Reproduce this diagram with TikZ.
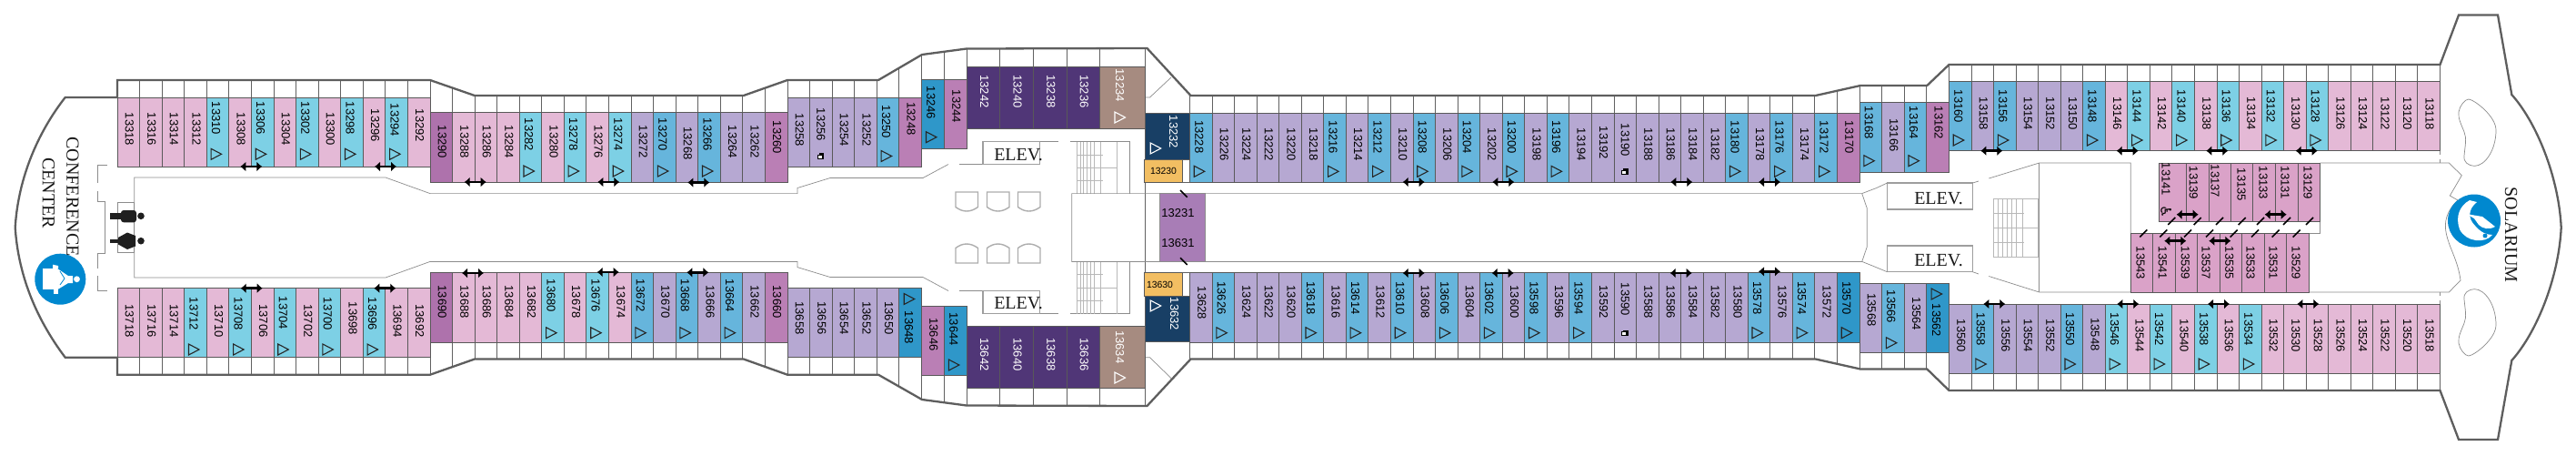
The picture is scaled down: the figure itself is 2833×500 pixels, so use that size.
\documentclass[tikz,border=0pt]{standalone}
\usepackage{fontspec}
\setmainfont{Liberation Sans}
\newfontfamily\serifl{Liberation Serif}
\newfontfamily\dejavu{DejaVu Sans}
\usetikzlibrary{arrows.meta}
\definecolor{cp}{HTML}{E4B9D6}\definecolor{cb}{HTML}{7DD0E5}\definecolor{cv}{HTML}{B6A8D2}
\definecolor{cm}{HTML}{66B5DC}\definecolor{cd}{HTML}{2F97C9}\definecolor{co}{HTML}{BA7FB5}
\definecolor{cw}{HTML}{AE72AC}\definecolor{cq}{HTML}{503677}\definecolor{ct}{HTML}{A68B80}
\definecolor{cn}{HTML}{183F65}\definecolor{cg}{HTML}{F2BE62}\definecolor{ck}{HTML}{DAA2C8}
\definecolor{ca}{HTML}{A87DB6}\definecolor{lg}{HTML}{0088CF}\definecolor{hullc}{HTML}{5E5E5E}
\tikzset{
 cabin/.style={draw=black!65,line width=0.45pt},
 num/.style={inner sep=0pt,rotate=-90,font=\fontsize{6.5}{7}\selectfont},
 hnum/.style={inner sep=0pt,font=\fontsize{6.5}{7}\selectfont},
 tx cp/.style={text=black},tx cb/.style={text=black},tx cv/.style={text=black},tx cm/.style={text=black},
 tx cd/.style={text=black},tx co/.style={text=black},tx cw/.style={text=black},tx ck/.style={text=black},
 tx cq/.style={text=white},tx ct/.style={text=white},tx cn/.style={text=white},
 hull/.style={draw=hullc,line width=1.15pt,line join=miter},
 divider/.style={draw=black!62,line width=0.45pt},
 inner/.style={draw=black!45,line width=0.35pt},
 faint/.style={draw=black!28,line width=0.45pt},
 box/.style={draw=black!38,line width=0.7pt},
 trimark/.style={draw=black!85,line width=0.55pt,line join=miter},
 dbl/.style={{Latex[length=3pt,width=5.5pt]}-{Latex[length=3pt,width=5.5pt]},line width=1.3pt,black},
 tickm/.style={draw=black,line width=0.8pt},
 place/.style={inner sep=0pt,font=\serifl\fontsize{10}{10}\selectfont,text=black!90},
}
\def\tdxn{1}\def\tdxt{-2}\def\tdxs{0}\def\tdxu{-1.5}\def\tdxw{-3}
\newcommand\tri[3][trimark]{\draw[#1] (#2-5.5,#3-6) -- (#2-5.5,#3+6) -- (#2+6,#3) -- cycle;}
\newcommand\sqicon[2]{\fill[black] (#1-2.2,#2-3.2) rectangle (#1+3.6,#2+3.4);
 \filldraw[fill=white,draw=black,line width=0.35pt] (#1-3.6,#2-1.4) rectangle (#1+1,#2+2.6);}
\def\kindn{}
\def\kindt{\tri{\tx}{\triy}}
\def\kinds{\sqicon{\cx}{\triy}}
\def\kindu{\tri{\tx}{\yaa+12}}
\def\kindw{\tri[trimark,draw=white]{\tx}{\triy}}
\newcommand\cabrow[6]{% x0,dx,y0,y1,triy,list
 \foreach \n/\c/\ty/\k [count=\i from 0] in {#6}{
  \pgfmathsetmacro\xa{#1+\i*#2}\pgfmathsetmacro\xb{\xa+#2}
  \pgfmathsetmacro\cx{\xa+#2/2}
  \pgfmathsetmacro\tx{\cx+\csname tdx\k\endcsname}
  \def\yaa{#3}\def\triy{#5}
  \path[cabin,fill=\c] (\xa,#3) rectangle (\xb,#4);
  \node[num,tx \c] (c\n) at (\tx,\ty) {\n};
  \csname kind\k\endcsname
 }}
\newcommand\balc[5]{\foreach \i in {0,...,#3}{\pgfmathsetmacro\xa{#1+\i*#2}\draw[divider] (\xa,#4) -- (\xa,#5);}}
\newcommand\dblarrow[2]{\draw[dbl] (#1-12,#2) -- (#1+12,#2);}
\def\hullpath{(71.7,107) -- (129,107) -- (129,88) -- (473,88) -- (522,105) -- (817.7,105) -- (866,88) -- (966,88) -- (1014,60) -- (1063,53.5) -- (1261.5,53) -- (1309.5,105) -- (1996.7,105) -- (2046,94) -- (2119.3,94) -- (2143.5,71) -- (2683.5,71) -- (2704,16.5) -- (2747,16.5) -- (2762.3,104)
 .. controls (2790,135) and (2814,195) .. (2816.7,250) .. controls (2814,305) and (2790,365) .. (2762.3,396)
 -- (2747,483) -- (2704,483) -- (2683.5,429) -- (2143.5,429) -- (2119.3,405.5) -- (2046,405.5) -- (1996.7,394.5) -- (1309.5,394.5) -- (1261.5,446) -- (1063,445.5) -- (1014,439) -- (966,411.7) -- (866,411.7) -- (817.7,394.5) -- (522,394.5) -- (473,411.7) -- (129,411.7) -- (129,392.7) -- (71.7,392.7)
 .. controls (38,348) and (20,300) .. (16.7,250) .. controls (20,195) and (42,145) .. (71.7,107) -- cycle}
\begin{document}
\begin{tikzpicture}[x=0.5pt,y=-0.5pt]
\useasboundingbox (0,0) rectangle (2833,500);
\fill[white] (0,0) rectangle (2833,500);
% balcony dividers, clipped to the hull
\begin{scope}
\expandafter\clip\hullpath;
\balc{129}{24.57}{14}{107}{80}
\balc{129}{24.57}{14}{393}{420}
\balc{473}{24.56}{16}{123}{80}
\balc{473}{24.56}{16}{376}{420}
\balc{866}{24.58}{6}{107}{50}
\balc{866}{24.58}{6}{393}{450}
\balc{1013.5}{24.9}{2}{87}{50}
\balc{1013.5}{24.9}{2}{412}{450}
\balc{1063.3}{36.6}{4}{73}{50}
\balc{1063.3}{36.6}{4}{427}{450}
\draw[divider] (1259.3,50) -- (1259.3,450);
\draw[divider] (1308.5,95) -- (1308.5,125);
\draw[divider] (1308.5,376) -- (1308.5,405);
\balc{1308.5}{24.55}{30}{124}{100}
\balc{1308.5}{24.55}{30}{376}{400}
\balc{2045}{24.6}{4}{112}{70}
\balc{2045}{24.6}{4}{388}{430}
\balc{2143.5}{24.54}{22}{90}{65}
\balc{2143.5}{24.54}{22}{410}{435}
\end{scope}
% forward interior
\draw[inner] (107.3,201) -- (107.3,181) -- (118,181);
\draw[inner] (107.3,210) -- (107.3,221.7) -- (115.7,221.7) -- (115.7,278.3) -- (107.3,278.3) -- (107.3,295);
\draw[inner] (107.3,303) -- (107.3,319) -- (118,319);
\draw[inner] (129.3,222) rectangle (147.7,277.7);
\draw[inner] (1043,180.5) -- (1015,195.5) -- (913,195.5) -- (877,206.5) -- (877,212.6) -- (473,212.6) -- (424,195) -- (147.7,195) -- (147.7,305) -- (424,305) -- (473,287.4) -- (877,287.4) -- (877,293.6) -- (913,304.5) -- (1015,304.5) -- (1043,319.5);
\draw[inner] (1055,180.5) -- (1081,180.5);
\draw[inner] (1055,319.5) -- (1081,319.5);
% midship lifts and stairs
\foreach \ya/\yb/\yt in {155.5/180.5/170,319.5/344.5/333}{
 \draw[box] (1081,\ya) rectangle (1143.5,\yb);
 \node[place] at (1120,\yt) {ELEV.};}
\draw[inner] (1143.5,155.5) -- (1164,155.5) (1177,155.5) -- (1242.5,155.5) -- (1242.5,212.6);
\draw[inner] (1143.5,344.5) -- (1164,344.5) (1177,344.5) -- (1242.5,344.5) -- (1242.5,287.4);
\foreach \x in {1184,1188,1191.5,1195,1199,1203,1210,1228}{
 \draw[faint] (\x,155.5) -- (\x,212.6);
 \draw[faint] (\x,287.4) -- (\x,344.5);}
\foreach \y/\xe in {170/1213,184/1228,198.5/1213,301.5/1213,316/1228,330/1213}
 \draw[faint] (1184,\y) -- (\xe,\y);
\draw[inner] (1178.7,287.4) -- (1178.7,212.6) -- (2047.7,212.6) -- (2053.3,229) -- (2053.3,271) -- (2047.7,287.4) -- cycle;
\draw[inner] (2047.7,212.6) -- (2063.7,206.5);
\draw[inner] (2047.7,287.4) -- (2058,291.5);
% seats
\foreach \x in {1051,1085.5,1119.5}{
 \draw[box,draw=black!32] (\x,211) -- (\x,227.5) .. controls (\x+8,233.5) and (\x+16,233.5) .. (\x+24.5,227.5) -- (\x+24.5,211) -- cycle;
 \draw[box,draw=black!32] (\x,289) -- (\x,272.5) .. controls (\x+8,266.5) and (\x+16,266.5) .. (\x+24.5,272.5) -- (\x+24.5,289) -- cycle;}
\draw[inner] (1259.3,107) -- (1264.5,107) -- (1288,85);
\draw[inner] (1259.3,392.7) -- (1264.5,392.7) -- (1288,415.5);
% aft interior
\foreach \ya/\yb/\yt in {201/230/218,270/298.7/285.7}{
 \draw[box] (2075.5,\ya) rectangle (2169.5,\yb);
 \node[place] at (2132,\yt) {ELEV.};}
\draw[inner] (2187.3,196) -- (2242.7,179) -- (2343.3,179) -- (2343.3,321) -- (2242.7,321) -- (2187.3,303.5);
\draw[inner] (2242.7,179) -- (2242.7,321);
\draw[inner] (2169.5,201) -- (2176,199);
\draw[inner] (2169.5,298.7) -- (2176,301);
\draw[inner] (2058,291.5) -- (2075.5,298.7);
\draw[inner] (2063.7,206.5) -- (2075.5,201);
\foreach \x in {2192.3,2197,2202,2207,2212,2217,2224}{\draw[faint] (\x,218) -- (\x,282);}
\draw[faint] (2192.3,218) rectangle (2241,282);
\foreach \y/\xe in {234/2225.7,250/2241,266/2225.7}{\draw[faint] (2192.3,\y) -- (\xe,\y);}
\draw[inner] (2551.7,179) -- (2693.3,179) -- (2707.3,192.7) -- (2694.3,215) -- (2703,220) .. controls (2690,232) and (2688,245) .. (2690,255) .. controls (2693,272) and (2703,285) .. (2706,308) -- (2693.3,321) -- (2539.7,321);
\draw[inner] (2551.7,243) -- (2551.7,256.5) -- (2539.7,256.5);
\draw[inner] (2683.3,165.7) -- (2683.3,170) (2683.3,175) -- (2683.3,179);
\draw[inner] (2683.3,321) -- (2683.3,325) (2683.3,330) -- (2683.3,334);
\foreach \s in {1,-1}{
 \draw[inner,line width=0.35pt] (2715,{250+\s*(-141)}) .. controls (2722,{250+\s*(-140)}) and (2745,{250+\s*(-122)}) .. (2745,{250+\s*(-107)}) .. controls (2745,{250+\s*(-85)}) and (2733,{250+\s*(-68)}) .. (2721.7,{250+\s*(-67.7)}) .. controls (2714,{250+\s*(-68)}) and (2709,{250+\s*(-72)}) .. (2710,{250+\s*(-79)}) .. controls (2711,{250+\s*(-90)}) and (2713,{250+\s*(-98)}) .. (2710,{250+\s*(-105)}) .. controls (2707,{250+\s*(-113)}) and (2703,{250+\s*(-120)}) .. (2704,{250+\s*(-127)}) .. controls (2705,{250+\s*(-134)}) and (2711,{250+\s*(-141)}) .. (2715,{250+\s*(-141)}) -- cycle;}
% cabins, starboard (top)
\cabrow{129}{24.57}{107}{183}{169.3}{13318/cp/142/n,13316/cp/142/n,13314/cp/142/n,13312/cp/142/n,13310/cb/130/t,13308/cp/142/n,13306/cb/130/t,13304/cp/142/n,13302/cb/130/t,13300/cp/142/n,13298/cb/130/t,13296/cp/138/n,13294/cb/132/t,13292/cp/138/n}
\cabrow{473}{24.56}{123}{200}{188}{13290/cw/156/n,13288/cp/156/n,13286/cp/156/n,13284/cp/156/n,13282/cb/148/t,13280/cp/156/n,13278/cb/148/t,13276/cp/156/n,13274/cb/148/t,13272/cv/156/n,13270/cm/148/t,13268/cv/157.5/n,13266/cm/148/t,13264/cv/156/n,13262/cv/156/n,13260/co/151/n}
\cabrow{866}{24.58}{107}{183}{171.5}{13258/cv/143/n,13256/cv/137/s,13254/cv/143/n,13252/cv/143/n,13250/cm/134/t,13248/co/130.5/n}
\cabrow{1013.5}{24.9}{87.5}{163.5}{150.7}{13246/cd/113/t,13244/co/117/n}
\cabrow{1063.3}{36.6}{73}{141}{129}{13242/cq/100.5/n,13240/cq/100.5/n,13238/cq/100.5/n,13236/cq/100.5/n}
\cabrow{1209.7}{49.6}{73}{141}{129}{13234/ct/93.7/w}
\cabrow{1308.5}{24.55}{124}{200}{188.3}{13228/cm/150.3/t,13226/cv/159/n,13224/cv/159/n,13222/cv/159/n,13220/cv/159/n,13218/cv/159/n,13216/cm/151/t,13214/cv/159/n,13212/cm/151/t,13210/cv/159/n,13208/cm/151/t,13206/cv/159/n,13204/cm/151/t,13202/cv/159/n,13200/cm/151/t,13198/cv/159/n,13196/cm/151/t,13194/cv/159/n,13192/cv/157/n,13190/cv/154/s,13188/cv/159/n,13186/cv/159/n,13184/cv/159/n,13182/cv/159/n,13180/cm/151/t,13178/cv/159/n,13176/cm/151/t,13174/cv/159/n,13172/cm/151/t,13170/co/151/n}
\cabrow{2045}{24.6}{112}{189}{176.7}{13168/cm/135/t,13166/cv/148.5/n,13164/cm/135/t,13162/co/135/n}
\cabrow{2143.5}{24.54}{89.5}{165.7}{154}{13160/cm/117/t,13158/cv/125/n,13156/cm/117/t,13154/cv/125/n,13152/cv/125/n,13150/cv/125/n,13148/cm/117/t,13146/cp/125/n,13144/cb/117/t,13142/cp/125/n,13140/cb/117/t,13138/cp/125/n,13136/cb/117/t,13134/cp/125/n,13132/cb/117/t,13130/cp/125/n,13128/cb/117/t,13126/cp/125/n,13124/cp/125/n,13122/cp/125/n,13120/cp/125/n,13118/cp/125/n}
% cabins, port (bottom)
\cabrow{129}{24.57}{316.5}{392.5}{384}{13718/cp/352.5/n,13716/cp/352.5/n,13714/cp/352.5/n,13712/cb/345/t,13710/cp/352.5/n,13708/cb/345/t,13706/cp/352.5/n,13704/cb/344/t,13702/cp/352.5/n,13700/cb/345/t,13698/cp/350/n,13696/cb/345/t,13694/cp/352.5/n,13692/cp/352.5/n}
\cabrow{473}{24.56}{299.5}{376}{365.7}{13690/cw/331.7/n,13688/cp/331.7/n,13686/cp/331.7/n,13684/cp/331.7/n,13682/cp/331.7/n,13680/cb/325/t,13678/cp/331.7/n,13676/cb/325/t,13674/cp/331.7/n,13672/cm/325/t,13670/cv/331.7/n,13668/cm/325/t,13666/cv/331.7/n,13664/cm/325/t,13662/cv/331.7/n,13660/co/331.7/n}
\cabrow{866}{24.58}{316.5}{392.5}{384}{13658/cv/349.5/n,13656/cv/349.5/n,13654/cv/349.5/n,13652/cv/349.5/n,13650/cv/349.5/n,13648/cd/360/u}
\cabrow{1013.5}{24.9}{336}{412}{401}{13646/co/367.5/n,13644/cd/361.7/t}
\cabrow{1063.3}{36.6}{358}{426.5}{415}{13642/cq/389.5/n,13640/cq/389.5/n,13638/cq/389.5/n,13636/cq/389.5/n}
\cabrow{1209.7}{49.6}{358}{426.5}{415}{13634/ct/381.3/w}
\cabrow{1308.5}{24.55}{299.5}{376}{365.7}{13628/cv/333/n,13626/cm/327.5/t,13624/cv/331.7/n,13622/cv/331.7/n,13620/cv/331.7/n,13618/cm/327.5/t,13616/cv/331.7/n,13614/cm/327.5/t,13612/cv/331.7/n,13610/cm/327.5/t,13608/cv/331.7/n,13606/cm/327.5/t,13604/cv/331.7/n,13602/cm/327.5/t,13600/cv/331.7/n,13598/cm/327.5/t,13596/cv/331.7/n,13594/cm/327.5/t,13592/cv/331.7/n,13590/cv/329/s,13588/cv/331.7/n,13586/cv/331.7/n,13584/cv/331.7/n,13582/cv/331.7/n,13580/cv/331.7/n,13578/cm/327.5/t,13576/cv/331.7/n,13574/cm/327.5/t,13572/cv/331.7/n,13570/cd/327.5/t}
\cabrow{2045}{24.6}{311}{387.5}{376.7}{13568/cv/340.5/n,13566/cm/337/t,13564/cv/345/n,13562/cd/352/u}
\cabrow{2143.5}{24.54}{334}{410.5}{400}{13560/cv/369/n,13558/cm/362/t,13556/cv/369/n,13554/cv/369/n,13552/cv/369/n,13550/cm/362/t,13548/cv/367.5/n,13546/cb/362/t,13544/cp/369/n,13542/cb/362/t,13540/cp/369/n,13538/cb/362/t,13536/cp/369/n,13534/cb/362/t,13532/cp/369/n,13530/cp/369/n,13528/cp/369/n,13526/cp/369/n,13524/cp/369/n,13522/cp/369/n,13520/cp/369/n,13518/cp/369/n}
% midship special cabins
\path[cabin,fill=cn] (1259.5,124) rectangle (1308.5,175);
\node[num,text=white] (c13232) at (1290.7,145) {13232};
\tri[trimark,draw=white]{1270.7}{163}
\path[cabin,fill=cg] (1258.5,175) rectangle (1300,200);
\node[hnum,font=\fontsize{5.2}{6}\selectfont] (c13230) at (1279.5,188) {13230};
\draw[divider] (1300,200) -- (1308.5,200);
\path[cabin,fill=cn] (1259.5,325) rectangle (1308.5,375.7);
\node[num,text=white] (c13632) at (1291.7,345) {13632};
\tri[trimark,draw=white]{1270.7}{336}
\path[cabin,fill=cg] (1258.5,299.5) rectangle (1300,325);
\node[hnum,font=\fontsize{5.2}{6}\selectfont] (c13630) at (1275.5,313) {13630};
\draw[divider] (1300,299.5) -- (1308.5,299.5);
\path[cabin,draw=black!45,fill=ca] (1275.3,212.6) rectangle (1325,250);
\path[cabin,draw=black!45,fill=ca] (1275.3,250) rectangle (1325,287.4);
\draw[draw=ca] (1275.8,250) -- (1324.5,250);
\node[hnum] (c13231) at (1295.5,234) {13231};
\node[hnum] (c13631) at (1295.5,267) {13631};
\draw[tickm] (1298,209) -- (1305.7,216.7);
\draw[tickm] (1298,283.3) -- (1305.7,291);
% aft inside cabins
\foreach \xa/\xb/\n/\tx/\ty in {2374.3/2404.3/13141/2382/197,2404.3/2429/13139/2412.3/201,2429/2453.3/13137/2436/199,2453.3/2477.7/13135/2465/203,2477.7/2502.7/13133/2489/201,2502.7/2527.3/13131/2513/201,2527.3/2551.7/13129/2538/201}{
 \path[cabin,fill=ck] (\xa,179) rectangle (\xb,243.3);
 \node[num] (c\n) at (\tx,\ty) {\n};}
\foreach \xa/\xb/\n/\tx in {2343.3/2367.7/13543/2354,2367.7/2392.7/13541/2378.3,2392.7/2416.3/13539/2403.3,2416.3/2441.7/13537/2426,2441.7/2465.7/13535/2451.7,2465.7/2490.7/13533/2475,2490.7/2514.7/13531/2500,2514.7/2539.7/13529/2525}{
 \path[cabin,fill=ck] (\xa,256.5) rectangle (\xb,321);
 \node[num] (c\n) at (\tx,289) {\n};}
\node[inner sep=0pt,rotate=-90,font=\dejavu\fontsize{8}{8}\selectfont] (wheel) at (2382.3,232.3) {♿};
\foreach \x in {2388.3,2416.7,2441,2465.7,2486,2515,2540}{\draw[tickm] (\x-4,247) -- (\x+4,239);}
\foreach \x in {2357.3,2379.3,2406,2430,2456.7,2480,2502.7,2525.7}{\draw[tickm] (\x-4,260.5) -- (\x+4,252.5);}
% stateroom connecting arrows
\foreach \x/\y in {276.3/183,424/183,522.7/200,669.3/200,768.3/200.5,1554.7/200,1653.3/200,1849.3/200,1946/200,2190.3/165.7,2339.7/165.7,2438.3/165.7,2536.7/165.7,2405.7/235.7,2502.7/235.7,276.7/316.7,423.3/316.7,520/300,668.7/299,767.3/299.3,1554.7/300,1652.7/300,1848.7/300,1946/298.3,2193.3/334,2340.3/334,2440/334,2538.3/334,2392.3/264.7,2441.3/264.7}{\dblarrow{\x}{\y}}
% outer hull
\draw[hull] \hullpath;
% restroom figures
\fill[black!88] (121,234.3) rectangle (134,240.7);
\fill[black!88,rounded corners=1.5pt] (133,231) rectangle (150,244.3);
\fill[black!88] (155,237.3) circle (3.8);
\fill[black!88] (121,262.8) rectangle (130,266.6);
\fill[black!88] (130,261) -- (140,255.5) -- (149,259) -- (149,270.5) -- (140,274) -- (130,268.5) -- cycle;
\fill[black!88] (155,264.7) circle (3.8);
% conference logo and title
\fill[lg] (66.3,306.7) circle (28);
\fill[white] (46.7,295) rectangle (63.3,318.3);
\fill[white] (58,290.7) -- (64,292) -- (64,295) -- (58,295) -- cycle;
\fill[white] (59,318) -- (63.5,318) -- (63.5,323) -- (59,323) -- cycle;
\fill[white] (63,295) -- (75,303) -- (80,303) -- (80,311) -- (75,311) -- (63,318.3) -- cycle;
\fill[white] (84.5,306.7) circle (3.4);
\draw[lg,line width=0.4pt] (66,298) -- (71,306) -- (66,313);
\node[place,rotate=-90] (conf) at (80,216) {CONFERENCE};
\node[place,rotate=-90] (cent) at (53.3,212) {CENTER};
% solarium logo and title
\fill[lg] (2721,242.5) circle (29);
\fill[white] (2705,252) .. controls (2700,238) and (2705,226) .. (2716,220) -- (2724,222) .. controls (2714,230) and (2714,240) .. (2722,248) .. controls (2728,255) and (2734,258) .. (2741,258) .. controls (2733,268) and (2712,266) .. cycle;
\fill[white] (2712,235) -- (2730,238) -- (2744,249) .. controls (2737,253) and (2730,251) .. (2726,247) -- (2721,240) -- cycle;
\fill[lg] (2733,259) circle (2.5);
\node[place,rotate=-90] (sol) at (2761.7,258) {SOLARIUM};
\end{tikzpicture}
\end{document}
